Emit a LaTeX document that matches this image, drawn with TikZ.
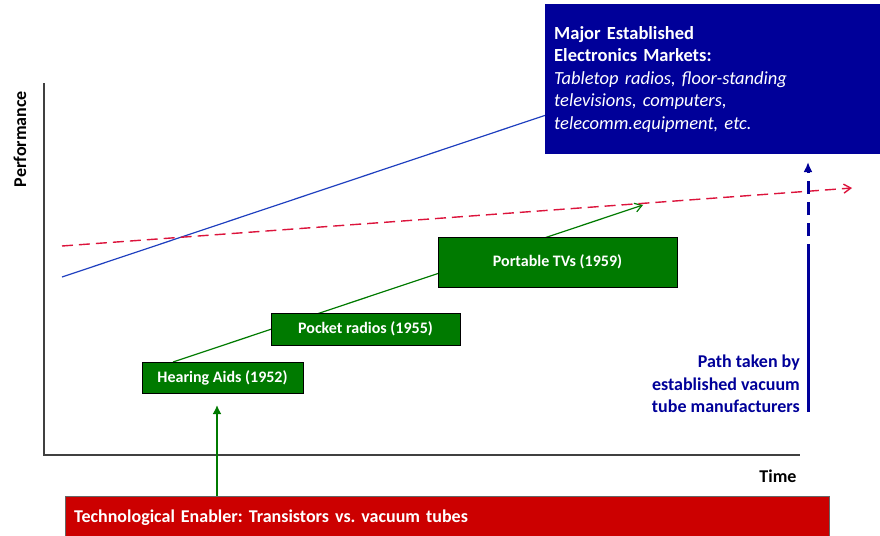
\documentclass[tikz,border=0pt]{standalone}
\usepackage{fontspec}
\setmainfont{Carlito}
\usetikzlibrary{arrows.meta,backgrounds}
\definecolor{navy}{HTML}{000099}
\definecolor{leaf}{HTML}{007A00}
\definecolor{brick}{HTML}{CC0000}
\definecolor{crimson}{HTML}{DC143C}
\definecolor{royal}{HTML}{1F3FBF}
\tikzset{
  product/.style={draw=black, thick, fill=leaf, text=white, font=\fontsize{16}{19}\selectfont\bfseries, inner sep=0pt},
  axis/.style={line width=1.3pt, draw=black!75},
}
\frenchspacing
\begin{document}
\begin{tikzpicture}[x=1pt, y=-1pt, >=latex]
\useasboundingbox (0,0) rectangle (880,535);
% axes
\coordinate (top) at (44,83);
\coordinate (origin) at (44,455);
\coordinate (right) at (800,455);
\draw[axis] (top)--(origin)--(right);
\node (perf) at (20,139) [rotate=90, font=\fontsize{18}{21}\selectfont\bfseries]{Performance};
\node (time) at (778,476) [font=\fontsize{18}{21}\selectfont\bfseries]{Time};

% products
\node (hearing) at (222.5,377.5) [product, minimum width=161, minimum height=31]{Hearing Aids (1952)};
\node (pocket) at (365.5,329) [product, minimum width=189, minimum height=32]{Pocket radios (1955)};
\node (tv) at (557.5,262) [product, minimum width=239, minimum height=50]{Portable TVs (1959)};

% markets box
\node (market) at (545,4) [anchor=north west, fill=navy, text=white, minimum width=335, minimum height=150,
  text width=317, inner xsep=9, align=left, font=\fontsize{18.5}{22.5}\selectfont]
  {\textbf{Major Established}\\ \textbf{Electronics Markets:}\\ \textit{Tabletop radios, floor-standing}\\
   \textit{televisions, computers,}\\ \textit{telecomm.equipment, etc.}};

% enabler
\node (enabler) at (65,496) [anchor=north west, fill=brick, draw=black!60, text=white, minimum width=764, minimum height=44,
  text width=746, inner xsep=9, align=left, font=\fontsize{18}{21}\selectfont\bfseries]
  {\raisebox{3pt}{Technological Enabler: Transistors vs. vacuum tubes}};
\draw[->, leaf, line width=2.8pt, >={Latex[length=9pt,width=9pt]}] (enabler.north west-|217,0)--(217,405);

% lines behind
\coordinate (tube0) at (62,277);
\coordinate (tube1) at (600,97);
\coordinate (tran0) at (173,362);
\coordinate (tran1) at (643,205);
\coordinate (old0) at (62,246);
\coordinate (old1) at (852,188);
\begin{scope}[on background layer]
\draw[royal, line width=1.2pt] (tube0)--(tube1);
\draw[leaf, line width=1.2pt, -{Straight Barb[length=7pt,width=9pt]}] (tran0)--(tran1);
\end{scope}
\draw[crimson, line width=1.4pt, dash pattern=on 11pt off 6pt, -{Straight Barb[length=7pt,width=9pt]}] (old0)--(old1);

% vacuum tube path
\coordinate (path0) at (808,412);
\coordinate (path1) at (808,257);
\coordinate (path2) at (808,162);
\draw[navy, line width=3pt] (path0)--(path1);
\draw[navy, line width=3pt, dash pattern=on 13pt off 8pt, -{Latex[length=10pt,width=9pt]}] (path1)--(path2);
\node (taken) at (800,384) [anchor=east, inner sep=0pt, align=right, text=navy, font=\fontsize{18}{22.5}\selectfont\bfseries]
  {Path taken by\\ established vacuum\\ tube manufacturers};
\end{tikzpicture}
\end{document}
